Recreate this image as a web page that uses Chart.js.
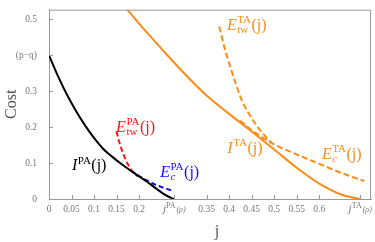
<!DOCTYPE html>
<html>
<head>
<meta charset="utf-8">
<script src="https://cdn.jsdelivr.net/npm/chart.js@4"></script>
<style>
  html, body { margin: 0; padding: 0; background: #fff; }
  #wrap { width: 375px; height: 242px; }
</style>
</head>
<body>
<div id="wrap"><canvas id="costChart" width="375" height="242"></canvas></div>
<script>
const jPA = [0, 0.02, 0.04, 0.06, 0.08, 0.10, 0.12, 0.14, 0.16, 0.18, 0.20, 0.22, 0.24, 0.26, 0.277];
const costIPA = [0.40, 0.342, 0.290, 0.245, 0.205, 0.170, 0.140, 0.118, 0.098, 0.080, 0.063, 0.046, 0.027, 0.010, 0];

const jTwPA = [0.150, 0.155, 0.160, 0.165, 0.170, 0.175, 0.180, 0.185, 0.190, 0.197];
const costTwPA = [0.188, 0.163, 0.143, 0.125, 0.110, 0.097, 0.086, 0.077, 0.070, 0.063];

const jCPA = [0.182, 0.20, 0.22, 0.24, 0.26, 0.277];
const costCPA = [0.080, 0.064, 0.050, 0.038, 0.029, 0.022];

const jTA = [0.17, 0.20, 0.25, 0.30, 0.35, 0.40, 0.45, 0.50, 0.55, 0.60, 0.65, 0.69];
const costITA = [0.533, 0.488, 0.418, 0.350, 0.288, 0.237, 0.188, 0.138, 0.087, 0.043, 0.012, 0];

const jTwTA = [0.378, 0.39, 0.402, 0.415, 0.428, 0.45, 0.47, 0.495];
const costTwTA = [0.48, 0.42, 0.37, 0.32, 0.275, 0.225, 0.19, 0.155];

const jCTA = [0.424, 0.45, 0.50, 0.55, 0.60, 0.65, 0.70];
const costCTA = [0.218, 0.192, 0.152, 0.124, 0.098, 0.072, 0.050];

const xTicks = [0, 0.05, 0.1, 0.15, 0.2, 0.277, 0.35, 0.4, 0.45, 0.5, 0.55, 0.6, 0.69];
const yTicks = [0, 0.1, 0.2, 0.3, 0.4, 0.5];
const yTickText = ['0', '0.1', '0.2', '0.3', '(p\u2212q)', '0.5'];

const ORANGE = '#fb8c16';
const AXIS = '#9a9a9a';
const TICKTXT = '#777';
const SERIF = '"Liberation Serif", "DejaVu Serif", serif';

const pts = (xs, ys) => xs.map((x, i) => ({ x, y: ys[i] }));

const line = (data, color, dash) => ({
  data,
  borderColor: color,
  borderWidth: 2,
  borderDash: dash || [],
  pointRadius: 0,
  cubicInterpolationMode: 'monotone',
  fill: false
});

// rich labels: [text, kind] ; kind: 'i' italic, 'n' normal, 'sup', 'supsub'
const labels = [
  { x: 0.051, y: 0.080, color: '#000', parts: [['I', 'i'], ['PA', 'sup'], ['(j)', 'n']] },
  { x: 0.149, y: 0.186, color: '#ff1010', parts: [['E', 'i'], ['PA|tw', 'supsub'], ['(j)', 'n']] },
  { x: 0.247, y: 0.062, color: '#1010ff', parts: [['E', 'i'], ['PA|c', 'supsub'], ['(j)', 'n']] },
  { x: 0.395, y: 0.470, color: ORANGE, parts: [['E', 'i'], ['TA|tw', 'supsub'], ['(j)', 'n']] },
  { x: 0.396, y: 0.128, color: ORANGE, parts: [['I', 'i'], ['TA', 'sup'], ['(j)', 'n']] },
  { x: 0.606, y: 0.112, color: ORANGE, parts: [['E', 'i'], ['TA|c', 'supsub'], ['(j)', 'n']] }
];

function drawRich(ctx, x, y, parts, color, big, small) {
  ctx.fillStyle = color;
  ctx.textBaseline = 'alphabetic';
  ctx.textAlign = 'left';
  let cx = x;
  parts.forEach(([t, kind]) => {
    if (kind === 'i' || kind === 'n') {
      ctx.font = (kind === 'i' ? 'italic ' : '') + big + 'px ' + SERIF;
      ctx.fillText(t, cx, y);
      cx += ctx.measureText(t).width + (kind === 'i' ? 0.5 : 0);
    } else if (kind === 'sup') {
      ctx.font = small + 'px ' + SERIF;
      ctx.fillText(t, cx, y - big * 0.42);
      cx += ctx.measureText(t).width + 0.5;
    } else {
      const [sup, sub] = t.split('|');
      ctx.font = small + 'px ' + SERIF;
      const w1 = ctx.measureText(sup).width;
      ctx.fillText(sup, cx, y - big * 0.42);
      ctx.font = (sub === 'c' ? 'italic ' : '') + small + 'px ' + SERIF;
      const w2 = ctx.measureText(sub).width;
      ctx.fillText(sub, cx, y + small * 0.3);
      cx += Math.max(w1, w2) + 0.5;
    }
  });
}

const decorPlugin = {
  id: 'decor',
  afterDraw(chart) {
    const { ctx, chartArea: a, scales: { x, y } } = chart;
    ctx.save();
    // frame top/right
    ctx.strokeStyle = AXIS;
    ctx.lineWidth = 1;
    ctx.beginPath();
    ctx.moveTo(a.left, a.top + 0.5);
    ctx.lineTo(a.right - 0.5, a.top + 0.5);
    ctx.lineTo(a.right - 0.5, a.bottom);
    ctx.stroke();
    // inside ticks
    ctx.beginPath();
    xTicks.forEach(v => {
      const px = Math.round(x.getPixelForValue(v)) + 0.5;
      ctx.moveTo(px, a.bottom);
      ctx.lineTo(px, a.bottom - 4);
    });
    yTicks.forEach(v => {
      const py = Math.round(y.getPixelForValue(v)) + 0.5;
      ctx.moveTo(a.left, py);
      ctx.lineTo(a.left + 4, py);
    });
    ctx.stroke();
    // special x tick labels
    [[0.277, 'PA'], [0.69, 'TA']].forEach(([v, s]) => {
      const px = x.getPixelForValue(v);
      ctx.fillStyle = TICKTXT;
      ctx.font = 'italic 11px ' + SERIF;
      const wj = ctx.measureText('j').width;
      ctx.font = '8px ' + SERIF;
      const ws = ctx.measureText(s).width;
      ctx.font = 'italic 8px ' + SERIF;
      const wr = ctx.measureText('(\u03c1)').width;
      let cx = px - (wj + ws + wr) / 2;
      const by = a.bottom + 13;
      ctx.textAlign = 'left';
      ctx.textBaseline = 'alphabetic';
      ctx.font = 'italic 11px ' + SERIF;
      ctx.fillText('j', cx, by);
      cx += wj;
      ctx.font = '8px ' + SERIF;
      ctx.fillText(s, cx, by - 4);
      cx += ws + 1;
      ctx.font = 'italic 8px ' + SERIF;
      ctx.fillText('(\u03c1)', cx, by);
    });
    // axis titles
    ctx.fillStyle = '#555';
    ctx.font = '16px ' + SERIF;
    ctx.textAlign = 'center';
    ctx.textBaseline = 'middle';
    ctx.fillText('j', (a.left + a.right) / 2 + 7, 232);
    ctx.translate(12, (a.top + a.bottom) / 2);
    ctx.rotate(-Math.PI / 2);
    ctx.fillText('Cost', 0, 0);
    ctx.restore();
    // curve labels
    ctx.save();
    labels.forEach(l => {
      drawRich(ctx, x.getPixelForValue(l.x), y.getPixelForValue(l.y), l.parts, l.color, 16, 11);
    });
    ctx.restore();
  }
};

new Chart(document.getElementById('costChart'), {
  type: 'line',
  data: {
    datasets: [
      line(pts(jPA, costIPA), '#000'),
      line(pts(jTwPA, costTwPA), '#ff1010', [5, 3]),
      line(pts(jCPA, costCPA), '#1010ff', [5, 3]),
      line(pts(jTA, costITA), ORANGE),
      line(pts(jTwTA, costTwTA), ORANGE, [6, 3]),
      line(pts(jCTA, costCTA), ORANGE, [6, 3])
    ]
  },
  options: {
    responsive: false,
    animation: false,
    layout: { padding: { top: 1, right: 4, left: 0, bottom: 0 } },
    plugins: { legend: { display: false }, tooltip: { enabled: false } },
    scales: {
      x: {
        type: 'linear',
        min: 0,
        max: 0.715,
        afterBuildTicks: s => { s.ticks = xTicks.map(v => ({ value: v })); },
        afterFit: s => { s.height = 43; },
        grid: { display: false },
        border: { color: AXIS, width: 1 },
        ticks: {
          autoSkip: false,
          maxRotation: 0,
          padding: -3,
          color: TICKTXT,
          font: { family: SERIF, size: 9.5 },
          callback: v => (v === 0.277 || v === 0.69) ? '' : String(v)
        }
      },
      y: {
        min: 0,
        max: 0.527,
        afterBuildTicks: s => { s.ticks = yTicks.map(v => ({ value: v })); },
        afterFit: s => { s.width = 49; },
        grid: { display: false },
        border: { color: AXIS, width: 1 },
        ticks: {
          padding: 4,
          color: TICKTXT,
          font: { family: SERIF, size: 9.5 },
          callback: v => yTickText[yTicks.indexOf(v)]
        }
      }
    }
  },
  plugins: [decorPlugin]
});
</script>
</body>
</html>
